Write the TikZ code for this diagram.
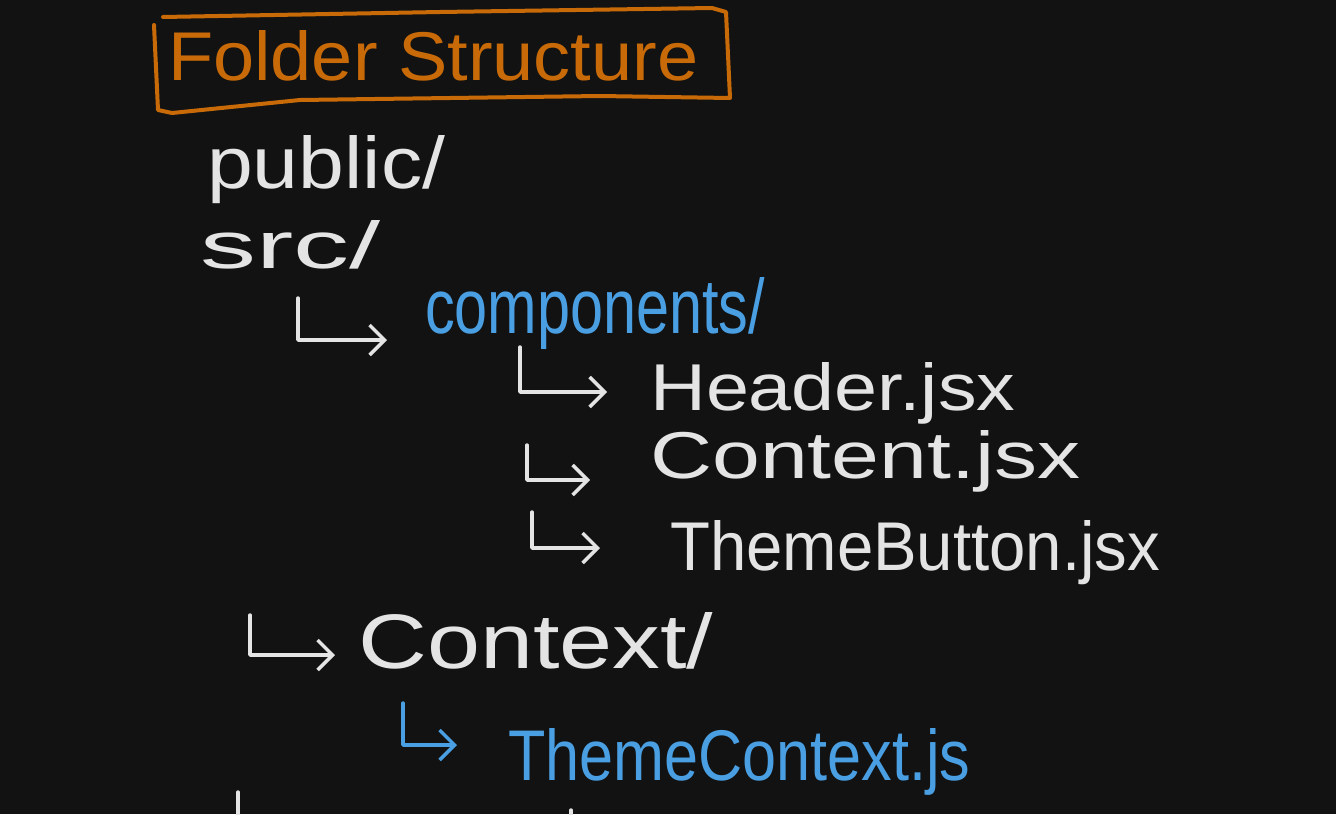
\documentclass[tikz,border=0pt]{standalone}
\usepackage{fontspec}
\setmainfont{Liberation Sans}
\usepackage{graphicx}
\usetikzlibrary{arrows.meta}
\definecolor{bg}{HTML}{121212}
\definecolor{ink}{HTML}{E4E4E4}
\definecolor{blueink}{HTML}{4A9FE3}
\definecolor{orangeink}{HTML}{C86A08}
\newcommand{\hw}[3]{\resizebox{#1pt}{#2pt}{#3}}
\begin{document}
\begin{tikzpicture}[x=1pt,y=-1pt,
  lbl/.style={inner sep=0pt, anchor=base west, text=ink},
  conn/.style={draw=ink, line width=3.4pt, line cap=round, line join=round,
    -{Straight Barb[length=15pt,width=30pt,line width=3.4pt]}},
  stroke/.style={draw=ink, line width=3.4pt, line cap=round}]
\fill[bg] (0,0) rectangle (1336,814);
\useasboundingbox (0,0) rectangle (1336,814);

% title box
\draw[orangeink, line width=4pt, line cap=round, line join=round]
  (163,17) -- (440,12) -- (712,8) -- (726,12) -- (730,98) -- (600,96)
  -- (300,100) -- (172,113) -- (158,110) -- (154,25);
\node[lbl, text=orangeink] (title) at (168,80) {\hw{530}{50}{Folder Structure}};

% tree labels
\node[lbl] (public) at (207,188) {\hw{238}{53}{public/}};
\node[lbl] (src) at (200,268) {\hw{180}{48}{src/}};
\node[lbl, text=blueink] (comp) at (425,333) {\hw{340}{56}{components/}};
\node[lbl] (header) at (650,410) {\hw{365}{48}{Header.jsx}};
\node[lbl] (content) at (650,478) {\hw{430}{48}{Content.jsx}};
\node[lbl] (button) at (670,570) {\hw{490}{50}{ThemeButton.jsx}};
\node[lbl] (context) at (358,668) {\hw{355}{56}{Context/}};
\node[lbl, text=blueink] (tctx) at (508,780) {\hw{462}{52}{ThemeContext.js}};

% connectors
\coordinate (s1) at (298,298); \coordinate (e1) at (387,340);
\coordinate (s2) at (520,347); \coordinate (e2) at (607,392);
\coordinate (s3) at (527,445); \coordinate (e3) at (590,480);
\coordinate (s4) at (532,512); \coordinate (e4) at (600,548);
\coordinate (s5) at (250,615); \coordinate (e5) at (335,655);
\coordinate (s6) at (403,703); \coordinate (e6) at (457,745);
\draw[conn] (s1) |- (e1);
\draw[conn] (s2) |- (e2);
\draw[conn] (s3) |- (e3);
\draw[conn] (s4) |- (e4);
\draw[conn] (s5) |- (e5);
\draw[conn, draw=blueink] (s6) |- (e6);

% partial strokes at bottom edge
\coordinate (b1) at (238,792); \coordinate (b2) at (238,816);
\coordinate (b3) at (571,810); \coordinate (b4) at (571,816);
\draw[stroke] (b1) -- (b2);
\draw[stroke] (b3) -- (b4);
\end{tikzpicture}
\end{document}
